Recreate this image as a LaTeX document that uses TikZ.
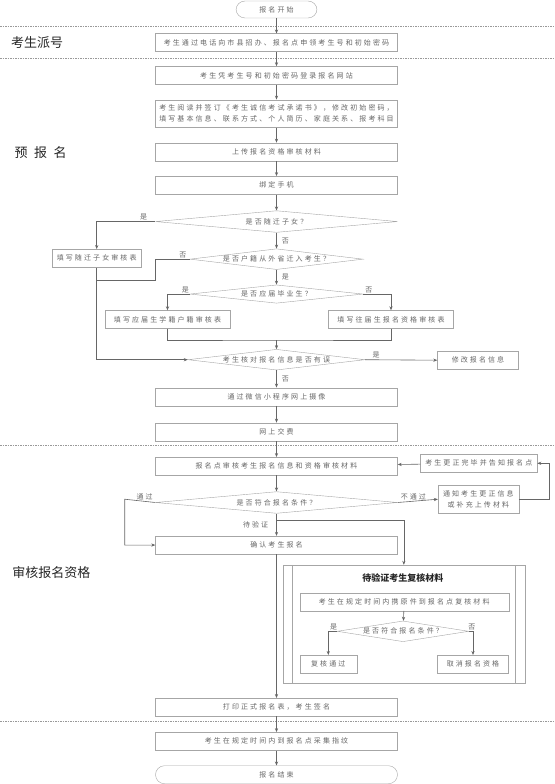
\documentclass[tikz,border=0pt]{standalone}
\usepackage{fontspec}
\setmainfont{Noto Sans CJK SC}
\newfontfamily\boxfont[LetterSpace=30]{Noto Sans CJK SC}
\usetikzlibrary{arrows.meta,positioning,shapes.geometric}

\begin{document}
\begin{tikzpicture}[x=1pt,y=-1pt,node distance=15pt,box/.style={draw=black!35,fill=white,font=\boxfont\fontsize{7}{11}\selectfont,text=black!60,align=center,minimum width=242pt,minimum height=18pt,inner sep=1pt},term/.style={box,rounded corners=9pt},dec/.style={diamond,draw=black!35,fill=white,font=\boxfont\fontsize{7}{11}\selectfont,text=black!60,aspect=8,inner sep=0pt,minimum width=242pt,minimum height=22pt},arr/.style={-{Stealth[length=4pt,width=3.2pt]},draw=black!60,line width=0.6pt},ln/.style={draw=black!60,line width=0.6pt},lab/.style={font=\boxfont\fontsize{7}{8}\selectfont,text=black!60,inner sep=0pt},sect/.style={font=\fontsize{13}{13}\selectfont,text=black!85,inner sep=0pt},sepline/.style={draw=black!40,line width=0.5pt,dash pattern=on 1.5pt off 1pt}]
\useasboundingbox (0,0) rectangle (554,784);
\foreach \yy in {26,58.3,445,721.7} \draw[sepline] (0,\yy) -- (554,\yy);
\node[sect] (secA) at (37,42.7) {考生派号};
\node[sect] (secB) at (40.5,152.7) {预\hspace{0.5em}报\hspace{0.5em}名};
\node[sect] (secC) at (51.3,572.7) {审核报名资格};
% main column
\node[term,minimum width=81pt,minimum height=17pt] (start) at (276.5,9.5) {报名开始};
\node[box,below=15.3pt of start] (apply) {考生通过电话向市县招办、报名点申领考生号和初始密码};
\node[box,below=14.3pt of apply] (login) {考生凭考生号和初始密码登录报名网站};
\node[box,below=of login,minimum height=27.7pt] (fill) {考生阅读并签订《考生诚信考试承诺书》，修改初始密码，\\填写基本信息、联系方式、个人简历、家庭关系、报考科目};
\node[box,below=of fill] (upload) {上传报名资格审核材料};
\node[box,below=of upload] (phone) {绑定手机};
\node[dec,below=16pt of phone,minimum height=21.7pt] (qsui) {是否随迁子女？};
\node[dec,below=16pt of qsui,minimum width=173pt,minimum height=20.7pt] (qhuji) {是否户籍从外省迁入考生？};
\node[dec,below=of qhuji,minimum width=173pt,minimum height=18.3pt] (qying) {是否应届毕业生？};
\node[dec,minimum width=177pt,minimum height=20.7pt] (qcheck) at (276.5,359.7) {考生核对报名信息是否有误};
\node[box,below=17.3pt of qcheck] (photo) {通过微信小程序网上摄像};
\node[box,below=16.7pt of photo] (pay) {网上交费};
\node[box,below=16pt of pay] (review) {报名点审核考生报名信息和资格审核材料};
\node[dec,below=16pt of review,minimum height=21.7pt] (qcond) {是否符合报名条件？};
\node[box,below=22.3pt of qcond] (confirm) {确认考生报名};
\node[box] (print) at (276.5,707.2) {打印正式报名表，考生签名};
\node[box,below=15.7pt of print] (finger) {考生在规定时间内到报名点采集指纹};
\node[term,below=of finger] (stop) {报名结束};
% side boxes
\node[box,minimum width=89pt] (sui) at (96.7,258.3) {填写随迁子女审核表};
\node[box,minimum width=125pt] (ying) at (167.5,319.5) {填写应届生学籍户籍审核表};
\node[box,minimum width=125pt] (wang) at (391,319.5) {填写往届生报名资格审核表};
\node[box,minimum width=81pt] (modify) at (478,360.2) {修改报名信息};
\node[box,minimum width=116.6pt] (amend) at (478.8,463.3) {考生更正完毕并告知报名点};
\node[box,minimum width=80.7pt,minimum height=28.3pt] (notify) at (478.4,499.2) {通知考生更正信息\\或补充上传材料};
% pending check block
\node[draw=black!35,minimum width=241.7pt,minimum height=118pt,inner sep=0pt] (sub) at (403.85,624) {};
\draw[draw=black!35] ([xshift=9.6pt]sub.north west) -- ([xshift=9.6pt]sub.south west);
\draw[draw=black!35] ([xshift=-9.6pt]sub.north east) -- ([xshift=-9.6pt]sub.south east);
\node[font=\bfseries\fontsize{9}{9}\selectfont,text=black!85] (subtitle) at (402.8,578.3) {待验证考生复核材料};
\node[box,minimum width=209pt] (carry) at (404.2,601.7) {考生在规定时间内携原件到报名点复核材料};
\node[dec,minimum width=116.5pt,minimum height=20.7pt] (qre) at (403,631.3) {是否符合报名条件？};
\node[box,minimum width=57pt] (pass) at (328.3,664.2) {复核通过};
\node[box,minimum width=71.3pt] (cancel) at (473,664.2) {取消报名资格};
\coordinate (jn) at (155.5,280.5);
\coordinate (jl) at (96.7,280.5);
\coordinate (mg) at (276.5,340);
\coordinate (lft) at (124.7,499.2);
\coordinate (rgt) at (548.8,499.2);
\coordinate (br) at (276.5,520.7);
\draw[arr](start)--(apply);\draw[arr](apply)--(login);\draw[arr](login)--(fill);\draw[arr](fill)--(upload);\draw[arr](upload)--(phone);\draw[arr](phone)--(qsui);
\draw[arr](qsui.west) -| (sui.north) node[lab,pos=0.1,above=1pt]{是};
\draw[arr](qsui)--(qhuji) node[lab,midway,right=5pt]{否};
\draw[ln](qhuji.west) -| node[lab,pos=0.1,above=1pt]{否} (jn) -- (jl);
\draw[arr](sui.south) |- (qcheck.west);
\draw[arr](qhuji)--(qying) node[lab,midway,right=5pt]{是};
\draw[arr](qying.west) -| (ying.north) node[lab,pos=0.1,above=1pt]{是};
\draw[arr](qying.east) -| (wang.north) node[lab,pos=0.1,above=1pt]{否};
\draw[ln](ying.south) |- (mg) -| (wang.south);
\draw[arr](mg)--(qcheck.north);
\draw[arr](qcheck.east)--(modify.west) node[lab,pos=0.15,above=1pt]{是};
\draw[arr](qcheck)--(photo) node[lab,midway,right=5pt]{否};
\draw[arr](photo)--(pay);\draw[arr](pay)--(review);\draw[arr](review)--(qcond);
\draw[arr](amend)--(review);
\draw[arr](qcond.west) -- node[lab,pos=0.35,above=1pt]{通过} (lft) |- (confirm.west);
\draw[arr](qcond.east) -- node[lab,pos=0.39,above=1pt]{不通过} (notify.west);
\draw[arr](notify.east) -- (rgt) |- (amend.east);
\draw[arr](qcond)--(confirm) node[lab,midway,left=8pt]{待验证};
\draw[arr](br) -| (sub.north);
\draw[arr](confirm)--(print);\draw[arr](print)--(finger);\draw[arr](finger)--(stop);
\draw[arr](carry)--(qre);
\draw[arr](qre.west) -| (pass.north) node[lab,pos=0.2,above=1pt]{是};
\draw[arr](qre.east) -| (cancel.north) node[lab,pos=0.35,above=1pt]{否};
\end{tikzpicture}
\end{document}
